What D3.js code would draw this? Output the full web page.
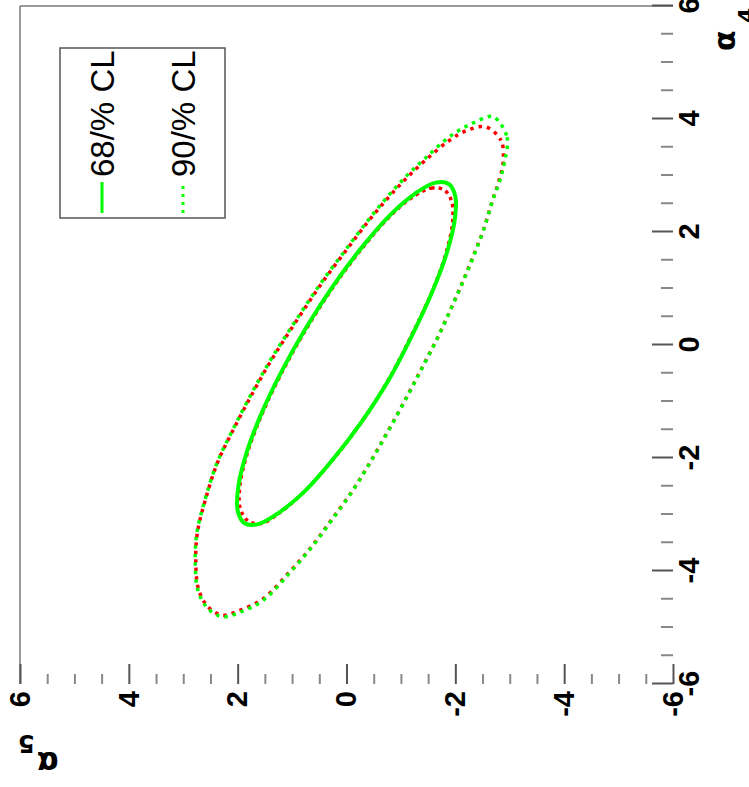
<!DOCTYPE html>
<html>
<head>
<meta charset="utf-8">
<script src="https://cdn.jsdelivr.net/npm/d3@7"></script>
<style>
  body { margin: 0; background: #fff; }
</style>
</head>
<body>
<script>
// contour points, [alpha4, alpha5]
var green68 = [[2.85,-1.88],[2.87,-1.62],[2.68,-1.26],[2.30,-0.80],[1.75,-0.30],[1.07,0.23],[0.31,0.74],[-0.48,1.20],
  [-1.25,1.58],[-1.95,1.85],[-2.52,1.99],[-2.93,2.00],[-3.15,1.88],[-3.17,1.62],[-2.98,1.26],[-2.60,0.78],
  [-2.05,0.27],[-1.37,-0.27],[-0.61,-0.78],[0.18,-1.21],[0.95,-1.58],[1.65,-1.85],[2.22,-1.99],[2.63,-2.00]];

var green90 = [[4.04,-2.69],[3.68,-2.95],[3.27,-2.91],[2.92,-2.82],[2.57,-2.69],[2.04,-2.52],[1.56,-2.33],[1.10,-2.13],
  [0.62,-1.91],[0.14,-1.68],[-0.35,-1.42],[-0.85,-1.15],[-1.45,-0.81],[-2.04,-0.46],[-2.57,-0.12],[-3.10,0.27],
  [-3.58,0.64],[-4.04,1.05],[-4.51,1.52],[-4.73,1.96],[-4.81,2.29],[-4.65,2.56],[-4.34,2.73],[-3.81,2.78],
  [-3.33,2.75],[-2.74,2.60],[-2.09,2.38],[-1.50,2.09],[-0.85,1.74],[-0.32,1.43],[0.14,1.13],[0.67,0.77],
  [1.15,0.43],[1.68,0.02],[2.21,-0.40],[2.62,-0.75],[2.97,-1.08],[3.31,-1.45],[3.72,-1.94],[3.93,-2.33]];

var red68 = [[2.74,-1.80],[2.78,-1.58],[2.64,-1.25],[2.28,-0.80],[1.74,-0.31],[1.06,0.22],[0.30,0.73],[-0.49,1.19],
  [-1.26,1.57],[-1.94,1.83],[-2.50,1.96],[-2.90,1.95],[-3.12,1.80],[-3.16,1.57],[-2.97,1.23],[-2.59,0.77],
  [-2.04,0.26],[-1.36,-0.28],[-0.60,-0.78],[0.18,-1.20],[0.94,-1.57],[1.63,-1.83],[2.18,-1.95],[2.55,-1.93]];

var red90 = [[3.86,-2.56],[3.62,-2.84],[3.25,-2.88],[2.90,-2.80],[2.55,-2.68],[2.02,-2.51],[1.55,-2.32],[1.08,-2.12],
  [0.60,-1.90],[0.12,-1.67],[-0.36,-1.41],[-0.86,-1.14],[-1.46,-0.80],[-2.05,-0.45],[-2.58,-0.11],[-3.10,0.28],
  [-3.58,0.65],[-4.03,1.06],[-4.49,1.53],[-4.70,1.97],[-4.78,2.28],[-4.63,2.55],[-4.32,2.72],[-3.80,2.77],
  [-3.32,2.74],[-2.73,2.59],[-2.08,2.37],[-1.50,2.08],[-0.86,1.73],[-0.33,1.42],[0.13,1.12],[0.66,0.76],
  [1.14,0.42],[1.67,0.01],[2.20,-0.41],[2.60,-0.76],[2.94,-1.09],[3.27,-1.45],[3.62,-1.89],[3.80,-2.22]];

var majorTicks = [-6, -4, -2, 0, 2, 4, 6];
var minorTicks = d3.range(-6, 6.01, 0.5).filter(function(d) { return majorTicks.indexOf(d) < 0; });
var legendLabels = ['68/% CL', '90/% CL'];

var W = 749, H = 787;
var svg = d3.select('body').append('svg')
    .attr('width', W)
    .attr('height', H)
    .style('background', '#fff');

// plot is drawn upright (787 wide, 749 tall) and turned a quarter to the left
var g = svg.append('g').attr('transform', 'translate(0,' + H + ') rotate(-90)');

var x = d3.scaleLinear().domain([-6, 6]).range([103, 781]);
var y = d3.scaleLinear().domain([-6, 6]).range([673, 20]);

// frame: only the top and right edges show
g.append('line').attr('x1', 103).attr('x2', 781).attr('y1', 20).attr('y2', 20)
  .attr('stroke', '#777').attr('stroke-width', 1.5);
g.append('line').attr('x1', 781).attr('x2', 781).attr('y1', 20).attr('y2', 673)
  .attr('stroke', '#777').attr('stroke-width', 1.5);

function fmt(d) { return String(d); }

function styleAxis(sel, col) {
  sel.select('.domain').remove();
  sel.selectAll('.tick line').attr('stroke', col).attr('stroke-width', 2);
  sel.selectAll('.tick text')
    .attr('fill', '#000')
    .style('font-family', '"Liberation Sans", Arial, sans-serif')
    .style('font-weight', 'bold')
    .style('font-size', '29px');
}

// alpha4 axis
g.append('g').attr('transform', 'translate(0,673)')
  .call(d3.axisBottom(x).tickValues(minorTicks).tickSize(-12).tickFormat(''))
  .call(styleAxis, '#888');
g.append('g').attr('transform', 'translate(0,673)')
  .call(d3.axisBottom(x).tickValues(majorTicks).tickSize(-21).tickPadding(5).tickFormat(fmt))
  .call(styleAxis, '#555');

// alpha5 axis
g.append('g').attr('transform', 'translate(103,0)')
  .call(d3.axisLeft(y).tickValues(minorTicks).tickSize(-10).tickFormat(''))
  .call(styleAxis, '#888');
g.append('g').attr('transform', 'translate(103,0)')
  .call(d3.axisLeft(y).tickValues(majorTicks).tickSize(-20).tickPadding(7).tickFormat(fmt))
  .call(styleAxis, '#555');

// axis titles
var titleFont = '"DejaVu Sans", "Liberation Sans", sans-serif';
g.append('text')
  .attr('x', 736).attr('y', 735)
  .style('font-family', titleFont).style('font-size', '30px').style('font-weight', 'bold')
  .text('α');
g.append('text')
  .attr('x', 764).attr('y', 754)
  .style('font-family', titleFont).style('font-size', '22px').style('font-weight', 'bold')
  .text('4');

var t5 = g.append('text')
    .attr('transform', 'translate(35,18) rotate(-90)')
    .attr('text-anchor', 'end')
    .style('font-family', titleFont)
    .style('font-weight', 'bold')
    .style('font-size', '32px');
t5.append('tspan').text('α');
t5.append('tspan').attr('dx', 2).attr('dy', 17).style('font-size', '24px').text('5');

// contours
var line = d3.line()
    .x(function(d) { return x(d[0]); })
    .y(function(d) { return y(d[1]); })
    .curve(d3.curveCatmullRomClosed);

g.append('path').datum(red90).attr('d', line)
  .attr('fill', 'none').attr('stroke', '#ff0000').attr('stroke-width', 3.5)
  .attr('stroke-dasharray', '3.5,5').attr('stroke-dashoffset', 4);
g.append('path').datum(green90).attr('d', line)
  .attr('fill', 'none').attr('stroke', '#00ff00').attr('stroke-width', 3.5)
  .attr('stroke-dasharray', '3.5,5');
g.append('path').datum(red68).attr('d', line)
  .attr('fill', 'none').attr('stroke', '#ff0000').attr('stroke-width', 3.5)
  .attr('stroke-dasharray', '3.5,4');
g.append('path').datum(green68).attr('d', line)
  .attr('fill', 'none').attr('stroke', '#00ff00').attr('stroke-width', 4);

// legend
var leg = g.append('g');
leg.append('rect')
  .attr('x', 569).attr('y', 60).attr('width', 170).attr('height', 165)
  .attr('fill', '#fff').attr('stroke', '#555').attr('stroke-width', 1.5);

var rows = [102, 183];
legendLabels.forEach(function(lab, i) {
  leg.append('line')
    .attr('x1', 574).attr('x2', 605).attr('y1', rows[i]).attr('y2', rows[i])
    .attr('stroke', '#00ff00').attr('stroke-width', 3)
    .attr('stroke-dasharray', i === 0 ? null : '3,5');
  leg.append('text')
    .attr('x', 610).attr('y', rows[i] + 12)
    .style('font-family', '"Liberation Sans", Arial, sans-serif')
    .style('font-size', '33px')
    .text(lab);
});
</script>
</body>
</html>
